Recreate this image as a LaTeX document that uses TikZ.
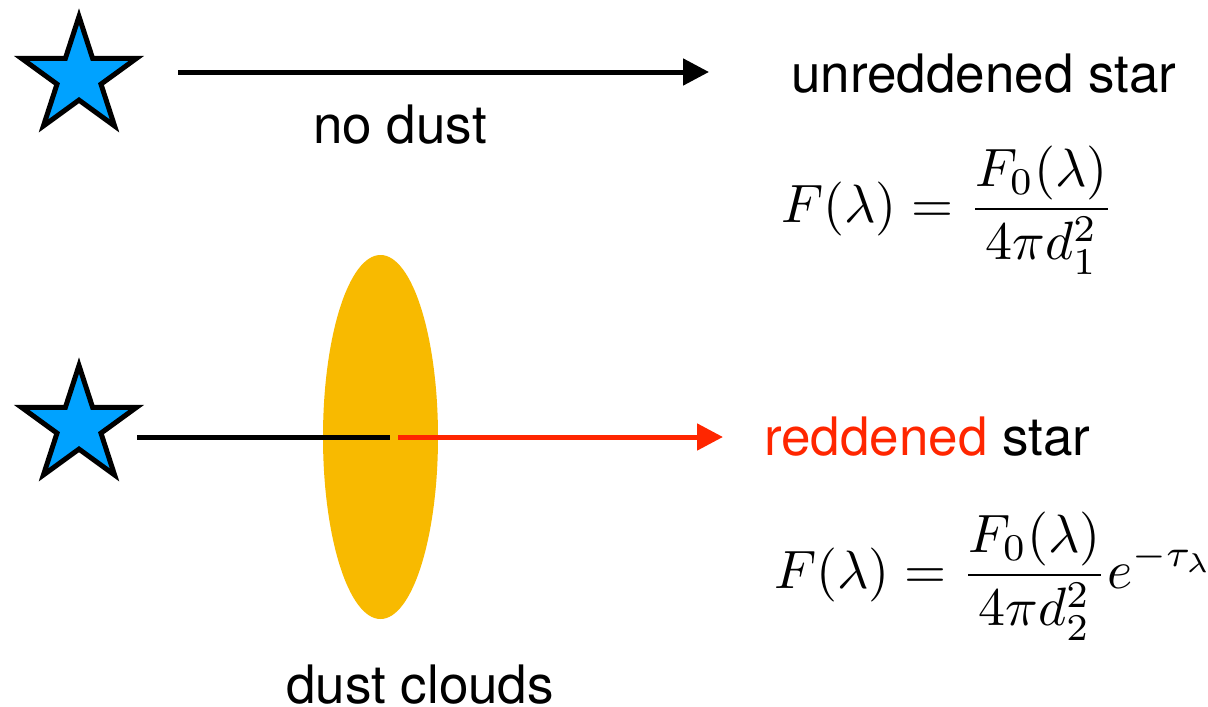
\documentclass[tikz,border=0pt]{standalone}
\usepackage[no-math]{fontspec}
\usepackage{graphicx}
\newfontfamily\hel{TeX Gyre Heros}
\usetikzlibrary{shapes.geometric,arrows.meta}
\definecolor{starblue}{HTML}{00A2FF}
\definecolor{dustorange}{HTML}{F8BA00}
\definecolor{redden}{HTML}{FF2600}
\tikzset{
  starnode/.style={star, star points=5, star point ratio=2.618, minimum size=121pt, inner sep=0pt,
    draw=black, line width=5pt, fill=starblue},
  label text/.style={inner sep=0pt, font=\hel\fontsize{53}{60}\selectfont},
  ray/.style={line width=5pt},
  raytip/.style={-{Triangle[length=26pt,width=26pt]}},
  formula/.style={inner sep=0pt, anchor=west}
}
\begin{document}
\begin{tikzpicture}[x=1pt,y=-1pt]
\useasboundingbox (0,0) rectangle (1208,707);
% stars
\node[starnode] (s1) at (79,77) {};
\node[starnode] (s2) at (79,426) {};
% dust cloud
\node[ellipse, fill=dustorange, minimum width=115pt, minimum height=364pt, inner sep=0pt] (cloud) at (380.5,437) {};
% top ray
\coordinate (a1s) at (178,72);
\coordinate (a1e) at (709,72);
\draw[ray, raytip] (a1s) -- (a1e);
% bottom ray
\coordinate (b1s) at (137,437);
\coordinate (b1e) at (390,437);
\coordinate (b2s) at (398,437);
\coordinate (b2e) at (723,437);
\draw[ray] (b1s) -- (b1e);
\draw[ray, raytip, draw=redden, fill=redden] (b2s) -- (b2e);
% texts
\node[label text, anchor=base] (nodust) at (400,143) {no dust};
\node[label text, anchor=base west] (unred) at (791,92) {unreddened star};
\node[label text, anchor=base west] (red) at (764,455) {\textcolor{redden}{reddened} star};
\node[label text, anchor=base] (clouds) at (420,703) {dust clouds};
% formulas
\node[formula] (f1) at (781,210) {\scalebox{5.4}{$\displaystyle F(\lambda)=\frac{F_0(\lambda)}{4\pi d_1^2}$}};
\node[formula] (f2) at (774,576) {\scalebox{5.4}{$\displaystyle F(\lambda)=\frac{F_0(\lambda)}{4\pi d_2^2}e^{-\tau_\lambda}$}};
\end{tikzpicture}
\end{document}
